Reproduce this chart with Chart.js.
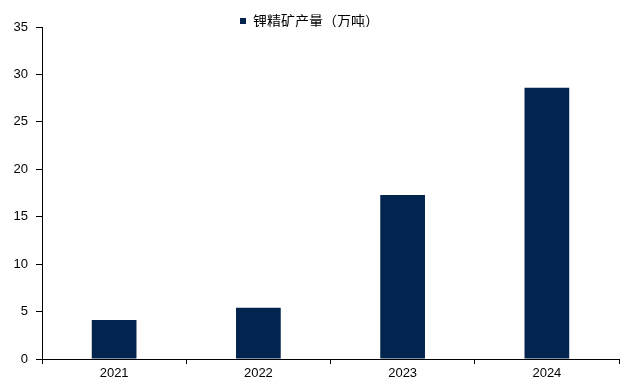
<!DOCTYPE html>
<html><head><meta charset="utf-8">
<script src="https://cdn.jsdelivr.net/npm/chart.js@4/dist/chart.umd.min.js"></script>
<style>html,body{margin:0;padding:0;background:#fff;}#wrap{width:624px;height:383px;}</style>
</head><body><div id="wrap"><canvas id="c" width="624" height="383"></canvas></div>
<script>
const categories = ['2021', '2022', '2023', '2024'];
const seriesName = '锂精矿产量（万吨）';
const values = [4.1, 5.4, 17.3, 28.6];
const yTicks = [0, 5, 10, 15, 20, 25, 30, 35];

const legendTrim = {
  id: 'legendTrim',
  beforeLayout(chart) {
    const lg = chart.legend;
    if (lg && !lg._trimmed) {
      const orig = lg.fit.bind(lg);
      lg.fit = function () { orig(); this.height = Math.max(0, this.height - 11); };
      lg._trimmed = true;
    }
  }
};

new Chart(document.getElementById('c'), {
  type: 'bar',
  data: {
    labels: categories,
    datasets: [{
      label: seriesName,
      data: values,
      backgroundColor: '#03244f',
      categoryPercentage: 1,
      barPercentage: 0.31
    }]
  },
  plugins: [legendTrim],
  options: {
    responsive: false,
    animation: false,
    devicePixelRatio: 1,
    layout: { padding: { left: 0, right: 5, top: 12, bottom: 0 } },
    plugins: {
      tooltip: { enabled: false },
      legend: {
        position: 'top',
        labels: {
          boxWidth: 6, boxHeight: 6, padding: 2,
          color: '#000',
          font: { family: '"Noto Sans CJK SC", "Liberation Sans", sans-serif', size: 14, lineHeight: 0.9 }
        }
      }
    },
    scales: {
      x: {
        grid: { drawOnChartArea: false, drawTicks: true, tickLength: 5, color: '#000', offset: true },
        border: { color: '#000', width: 1 },
        ticks: { color: '#000', padding: 2, font: { family: '"Liberation Sans", Arial, sans-serif', size: 13 } },
        afterFit(s) { s.height = 24; }
      },
      y: {
        min: 0, max: 35,
        afterBuildTicks(s) { s.ticks = yTicks.map(v => ({ value: v })); },
        grid: { drawOnChartArea: false, drawTicks: true, tickLength: 6, color: '#000' },
        border: { color: '#000', width: 1 },
        ticks: { color: '#000', padding: 8, font: { family: '"Liberation Sans", Arial, sans-serif', size: 13, lineHeight: 0.3 } },
        afterFit(s) { s.width = 42; }
      }
    }
  }
});
</script></body></html>
